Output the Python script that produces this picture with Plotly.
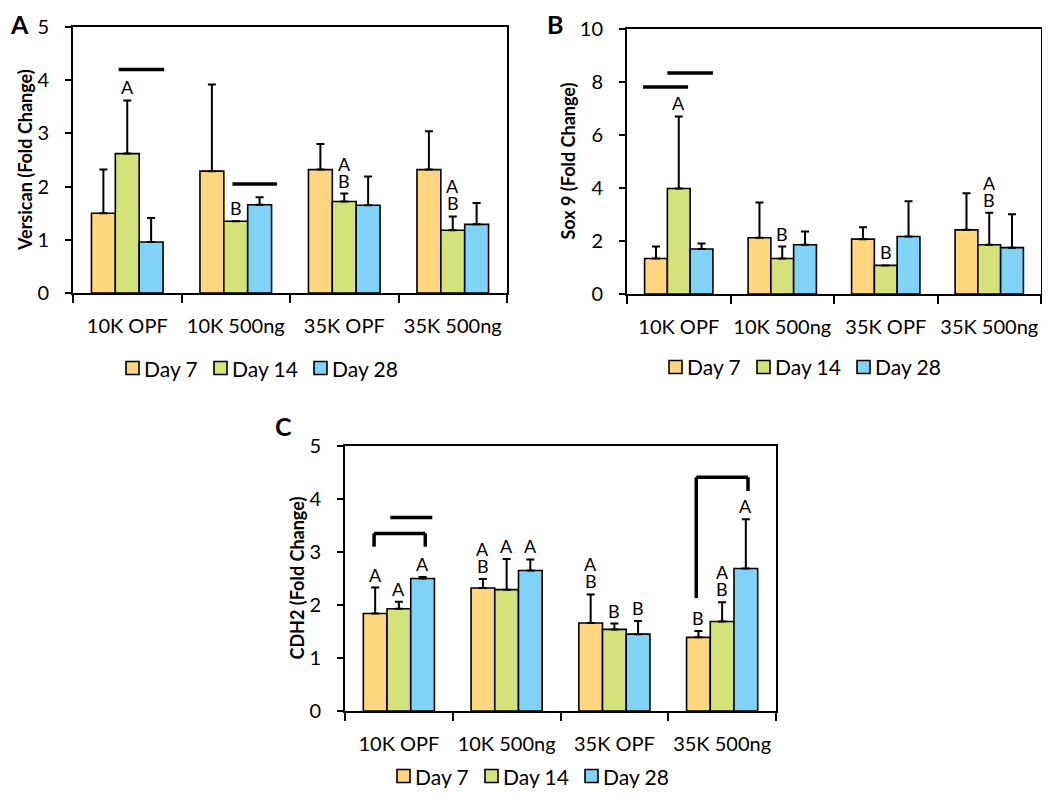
"""Three-panel grouped bar chart: Versican, Sox 9 and CDH2 fold change by day."""

import plotly.graph_objects as go

# ---------------------------------------------------------------------------
# Data
# ---------------------------------------------------------------------------
GROUPS = ["10K OPF", "10K 500ng", "35K OPF", "35K 500ng"]
DAYS = ["Day 7", "Day 14", "Day 28"]

# Panel A - Versican
VERSICAN_MEAN = {
    "Day 7": [1.50, 2.29, 2.32, 2.32],
    "Day 14": [2.62, 1.35, 1.72, 1.18],
    "Day 28": [0.96, 1.66, 1.65, 1.29],
}
VERSICAN_ERR = {
    "Day 7": [0.82, 1.63, 0.48, 0.72],
    "Day 14": [1.00, 0.00, 0.15, 0.26],
    "Day 28": [0.45, 0.14, 0.54, 0.40],
}
VERSICAN_LETTERS = {
    "Day 7": ["", "", "", ""],
    "Day 14": ["A", "B", "AB", "AB"],
    "Day 28": ["", "", "", ""],
}

# Panel B - Sox 9
SOX9_MEAN = {
    "Day 7": [1.34, 2.12, 2.07, 2.42],
    "Day 14": [3.98, 1.34, 1.08, 1.86],
    "Day 28": [1.70, 1.86, 2.17, 1.75],
}
SOX9_ERR = {
    "Day 7": [0.45, 1.33, 0.45, 1.38],
    "Day 14": [2.72, 0.45, 0.00, 1.21],
    "Day 28": [0.21, 0.50, 1.33, 1.26],
}
SOX9_LETTERS = {
    "Day 7": ["", "", "", ""],
    "Day 14": ["A", "B", "B", "AB"],
    "Day 28": ["", "", "", ""],
}

# Panel C - CDH2
CDH2_MEAN = {
    "Day 7": [1.84, 2.32, 1.66, 1.39],
    "Day 14": [1.93, 2.29, 1.54, 1.69],
    "Day 28": [2.50, 2.65, 1.45, 2.69],
}
CDH2_ERR = {
    "Day 7": [0.49, 0.17, 0.54, 0.12],
    "Day 14": [0.13, 0.58, 0.11, 0.36],
    "Day 28": [0.03, 0.21, 0.25, 0.93],
}
CDH2_LETTERS = {
    "Day 7": ["A", "AB", "AB", "B"],
    "Day 14": ["A", "A", "B", "AB"],
    "Day 28": ["A", "A", "B", "A"],
}

# significance bars: (group index, left offset, right offset, y)
VERSICAN_LINES = [(0, -0.08, 0.34, 4.20), (1, -0.03, 0.38, 2.05)]
SOX9_LINES = [(0, -0.345, 0.09, 7.81), (0, -0.11, 0.33, 8.34)]
CDH2_LINES = [(0, -0.08, 0.31, 3.65)]
# brackets: (group index, left offset, right offset, top y, left leg end, right leg end)
CDH2_BRACKETS = [(0, -0.23, 0.245, 3.35, 3.10, 3.10), (3, -0.24, 0.24, 4.41, 2.13, 4.15)]

# ---------------------------------------------------------------------------
# Style
# ---------------------------------------------------------------------------
COLORS = {"Day 7": "#FFD67D", "Day 14": "#D4E27A", "Day 28": "#80D3F7"}
OFFSETS = {"Day 7": -0.22, "Day 14": 0.0, "Day 28": 0.22}
FONT = "Lato, Open Sans, sans-serif"
PAGE_W, PAGE_H = 1050, 796
BODY_MARGIN = 8  # the html page keeps the browser's default body margin
W, H = PAGE_W - 2 * BODY_MARGIN, PAGE_H - 2 * BODY_MARGIN
LETTER_STEP = 17  # px between stacked letters
LEGEND_STEPS = [0, 88, 188]  # px from first legend key to each key
KEY = 13  # legend key size, px

PANELS = [
    # box = plot (left, top, right, bottom) in page px; legend = first key (left, centre y);
    # title_x = centre of the rotated y title; label = panel letter position
    dict(name="A", mean=VERSICAN_MEAN, err=VERSICAN_ERR, letters=VERSICAN_LETTERS,
         lines=VERSICAN_LINES, brackets=[], ymax=5, dtick=1,
         title="Versican (Fold Change)", title_x=25, box=(73, 27, 507, 293),
         legend=(126, 368), label=(19, 8, "top")),
    dict(name="B", mean=SOX9_MEAN, err=SOX9_ERR, letters=SOX9_LETTERS,
         lines=SOX9_LINES, brackets=[], ymax=10, dtick=2,
         title="Sox 9 (Fold Change)", title_x=568, box=(627, 29, 1041, 294),
         legend=(669, 367), label=(555, 8, "top")),
    dict(name="C", mean=CDH2_MEAN, err=CDH2_ERR, letters=CDH2_LETTERS,
         lines=CDH2_LINES, brackets=CDH2_BRACKETS, ymax=5, dtick=1,
         title="CDH2 (Fold Change)", title_x=296, box=(345, 446, 776, 711),
         legend=(397, 776), label=(283, 426, "middle")),
]


def px_x(v):
    return (v - BODY_MARGIN) / W


def px_y(v):
    return 1 - (v - BODY_MARGIN) / H


fig = go.Figure()
shapes = []
annotations = []
layout = {}

for i, p in enumerate(PANELS):
    sfx = "" if i == 0 else str(i + 1)
    xa, ya = "x" + sfx, "y" + sfx
    lx, ly = p["legend"]
    left, top, right, bottom = p["box"]

    for d, day in enumerate(DAYS):
        fig.add_trace(
            go.Bar(
                x=GROUPS,
                y=p["mean"][day],
                name=day,
                xaxis=xa,
                yaxis=ya,
                showlegend=False,
                marker=dict(color=COLORS[day], line=dict(color="black", width=1.6)),
                error_y=dict(
                    type="data",
                    symmetric=False,
                    array=p["err"][day],
                    arrayminus=[0] * len(GROUPS),
                    color="black",
                    thickness=2,
                    width=4,
                ),
            )
        )
        # significance letters stacked above each error bar
        for g, txt in enumerate(p["letters"][day]):
            top_val = p["mean"][day][g] + p["err"][day][g]
            for k, ch in enumerate(txt):
                annotations.append(
                    dict(
                        x=g + OFFSETS[day], y=top_val, xref=xa, yref=ya,
                        text=ch, showarrow=False, yanchor="bottom",
                        height=16, borderpad=0,
                        yshift=4 + (len(txt) - 1 - k) * LETTER_STEP,
                        font=dict(family=FONT, size=18, color="black"),
                    )
                )

        # legend key + label under the panel
        kx = lx + LEGEND_STEPS[d]
        shapes.append(dict(
            type="rect", xref="paper", yref="paper",
            x0=px_x(kx), x1=px_x(kx + KEY), y0=px_y(ly + KEY / 2), y1=px_y(ly - KEY / 2),
            fillcolor=COLORS[day], line=dict(color="black", width=1.6),
        ))
        annotations.append(dict(
            x=px_x(kx + KEY + 4), y=px_y(ly), xref="paper", yref="paper",
            xanchor="left", yanchor="middle", text=day, showarrow=False,
            borderpad=0, font=dict(family=FONT, size=21, color="black"),
        ))

    for g, x0, x1, yv in p["lines"]:
        shapes.append(dict(type="line", xref=xa, yref=ya, x0=g + x0, x1=g + x1,
                           y0=yv, y1=yv, line=dict(color="black", width=3.5)))
    for g, x0, x1, yt, yl, yr in p["brackets"]:
        for sx0, sx1, sy0, sy1 in [(x0, x1, yt, yt), (x0, x0, yt, yl), (x1, x1, yt, yr)]:
            shapes.append(dict(type="line", xref=xa, yref=ya, x0=g + sx0, x1=g + sx1,
                               y0=sy0, y1=sy1, line=dict(color="black", width=3.5)))

    layout["xaxis" + sfx] = dict(
        domain=[px_x(left), px_x(right)], anchor=ya, type="category", automargin=False,
        showline=True, linecolor="black", linewidth=2, mirror=True,
        ticks="outside", tickson="boundaries", ticklen=8, tickwidth=2,
        tickcolor="black", ticklabelstandoff=14, tickangle=0,
        tickfont=dict(family=FONT, size=20, color="black"), showgrid=False,
    )
    layout["yaxis" + sfx] = dict(
        domain=[px_y(bottom), px_y(top)], anchor=xa, range=[0, p["ymax"]],
        automargin=False, dtick=p["dtick"], showline=True, linecolor="black",
        linewidth=2, mirror=True, ticks="outside", ticklen=6, tickwidth=2,
        tickcolor="black", ticklabelstandoff=12, showgrid=False, zeroline=False,
        tickfont=dict(family=FONT, size=20, color="black"),
    )
    # y-axis title, placed where the reference has it
    annotations.append(dict(
        x=px_x(p["title_x"]), y=px_y((top + bottom) / 2), xref="paper", yref="paper",
        xanchor="center", yanchor="middle", textangle=-90, showarrow=False,
        text="<b>" + p["title"] + "</b>",
        font=dict(family=FONT, size=18, color="black"),
    ))
    tx, ty, tanchor = p["label"]
    annotations.append(
        dict(x=px_x(tx), y=px_y(ty), xref="paper", yref="paper",
             xanchor="center", yanchor=tanchor, borderpad=0,
             text="<b>" + p["name"] + "</b>", showarrow=False,
             font=dict(family=FONT, size=25, color="black"))
    )

fig.update_layout(
    width=W,
    height=H,
    margin=dict(l=0, r=0, t=0, b=0),
    paper_bgcolor="white",
    plot_bgcolor="white",
    barmode="group",
    bargap=0.34,
    bargroupgap=0,
    showlegend=False,
    shapes=shapes,
    annotations=annotations,
    **layout,
)

fig.write_html("out.html")
